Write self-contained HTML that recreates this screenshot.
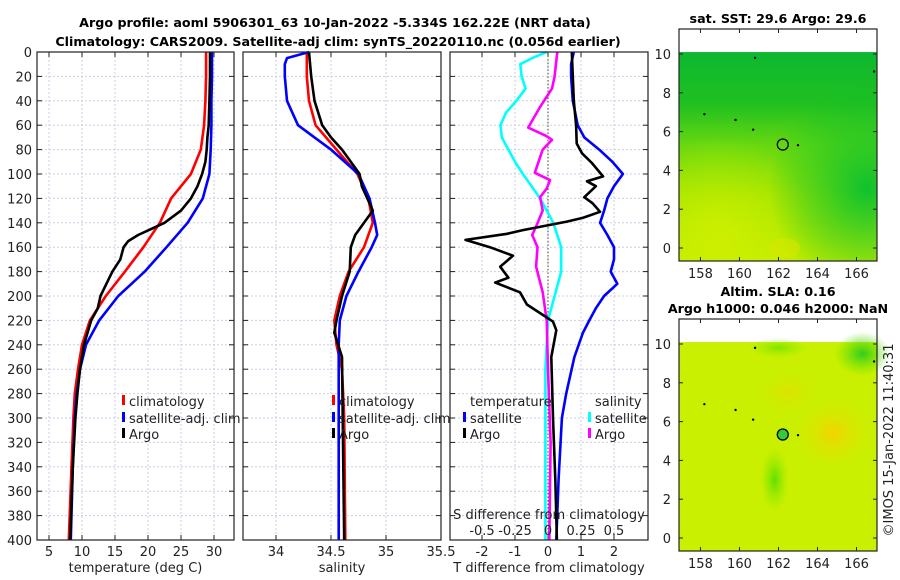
<!DOCTYPE html>
<html><head><meta charset="utf-8">
<style>
body{margin:0;background:#fff;}
svg{display:block;font-family:"DejaVu Sans","Liberation Sans",sans-serif;}
.t{font-size:13px;fill:#222;}
.b{font-size:12.7px;font-weight:bold;fill:#000;}
</style></head>
<body>
<svg id="fig" width="900" height="580" viewBox="0 0 900 580">
<defs>
<linearGradient id="sstg" x1="0" y1="0" x2="0" y2="1">
<stop offset="0" stop-color="#0cb830"/><stop offset="0.25" stop-color="#20c020"/>
<stop offset="0.45" stop-color="#68d810"/><stop offset="0.7" stop-color="#a0e400"/>
<stop offset="1" stop-color="#c0ec00"/></linearGradient>
<radialGradient id="sstr" cx="0.95" cy="0.65" r="0.5"><stop offset="0" stop-color="#08c030" stop-opacity="0.95"/><stop offset="1" stop-color="#08c030" stop-opacity="0"/></radialGradient>
<radialGradient id="ssty" cx="0.2" cy="0.9" r="0.5"><stop offset="0" stop-color="#d0f000" stop-opacity="0.9"/><stop offset="1" stop-color="#d0f000" stop-opacity="0"/></radialGradient>
<radialGradient id="slao" cx="0.5" cy="0.5" r="0.5"><stop offset="0" stop-color="#f2d400"/><stop offset="1" stop-color="#d0f000" stop-opacity="0"/></radialGradient>
<radialGradient id="slag" cx="0.5" cy="0.5" r="0.5"><stop offset="0" stop-color="#30cc20"/><stop offset="1" stop-color="#60e000" stop-opacity="0"/></radialGradient>
<radialGradient id="slag2" cx="0.5" cy="0.5" r="0.5"><stop offset="0" stop-color="#60e000"/><stop offset="1" stop-color="#90e800" stop-opacity="0"/></radialGradient>
</defs>
<g>
<text class="b" x="335" y="27" text-anchor="middle">Argo profile: aoml 5906301_63 10-Jan-2022 -5.334S 162.22E (NRT data)</text>
<text class="b" x="338" y="46" text-anchor="middle">Climatology: CARS2009. Satellite-adj clim: synTS_20220110.nc (0.056d earlier)</text>
</g>
<g id="panels"></g>
<g id="maps"></g>
<text class="t" transform="translate(893,440) rotate(-90)" text-anchor="middle">©IMOS 15-Jan-2022 11:40:31</text>
</svg>
<script>
// ---- data (depth in m) ----
var depthTicks=[0,20,40,60,80,100,120,140,160,180,200,220,240,260,280,300,320,340,360,380,400];
var tempTicks=[5,10,15,20,25,30];
var salTicks=[34,34.5,35,35.5];
var tdiffTicks=[-2,-1,0,1,2];
var sdiffTicks=[-0.5,-0.25,0,0.25,0.5];
var sdiffLabels=["-0.5","-0.25","0","0.25","0.5"];
var climTdepth=[0,20,40,60,80,100,120,140,160,180,200,220,240,260,280,300,340,400];
var climT=[28.8,28.8,28.7,28.5,28.0,26.5,23.5,21.8,19.3,16.5,13.6,11.2,10.0,9.4,8.9,8.7,8.4,8.0];
var satTdepth=[0,20,40,60,80,100,120,140,160,180,200,220,240,260,280,300,340,400];
var satT=[29.7,29.7,29.6,29.6,29.5,29.3,28.3,26.0,22.8,19.5,15.5,12.6,10.6,9.7,9.2,8.9,8.6,8.3];
var argoTdepth=[0,20,40,60,70,80,90,100,110,120,130,140,145,150,155,160,170,180,190,200,210,220,240,260,280,300,340,400];
var argoT=[29.4,29.4,29.3,29.2,29.0,28.9,28.7,28.2,27.5,26.5,25.0,22.5,20.5,18.5,17.0,16.3,15.8,14.6,13.7,12.8,12.4,11.4,10.3,9.7,9.3,9.0,8.6,8.2];
var climSdepth=[0,20,40,60,80,100,120,140,160,180,200,220,240,260,300,400];
var climS=[34.28,34.28,34.3,34.36,34.55,34.74,34.84,34.88,34.8,34.66,34.58,34.53,34.55,34.6,34.62,34.63];
var satSdepth=[0,5,10,20,40,60,70,80,100,120,140,150,160,180,200,220,240,260,400];
var satS=[34.3,34.1,34.08,34.08,34.1,34.2,34.35,34.5,34.75,34.85,34.9,34.92,34.87,34.75,34.64,34.58,34.57,34.57,34.57];
var argoSdepth=[0,20,40,60,70,80,90,100,110,120,130,140,150,160,180,200,220,230,250,400];
var argoS=[34.3,34.32,34.35,34.42,34.5,34.6,34.68,34.76,34.78,34.83,34.88,34.8,34.72,34.68,34.67,34.6,34.55,34.53,34.6,34.62];
var satTdDepth=[0,10,20,40,60,70,80,90,100,110,120,130,140,150,160,170,180,190,200,210,220,230,250,280,300,350,400];
var satTd=[0.78,0.7,0.7,0.75,0.9,1.1,1.55,1.95,2.27,2.0,1.8,1.7,1.58,1.8,2.0,2.0,1.9,2.1,1.7,1.45,1.25,1.06,0.8,0.55,0.42,0.32,0.25];
var argoTdDepth=[0,20,40,60,75,83,91,102,106,110,119,124,131,136,139,146,149,154,160,167,176,185,189,197,207,214,221,228,250,300,350,400];
var argoTd=[0.72,0.75,0.78,0.85,0.87,1.03,1.33,1.67,1.18,1.45,1.1,1.35,1.58,1.05,0.57,-0.76,-1.24,-2.5,-1.76,-1.06,-1.45,-1.2,-1.6,-0.85,-0.64,-0.24,0.15,0.25,0.1,0.15,0.22,0.27];
var satSdDepth=[0,5,10,20,30,40,50,60,70,80,90,100,120,140,160,180,200,220,260,400];
var satSd=[-0.01,-0.12,-0.21,-0.2,-0.17,-0.24,-0.32,-0.36,-0.35,-0.3,-0.25,-0.19,-0.06,0.04,0.1,0.1,0.05,0.0,-0.02,-0.02];
var argoSdDepth=[0,20,30,45,62,69,72,80,99,105,112,119,130,143,150,160,176,197,220,260,320,400];
var argoSd=[0.07,0.05,0.03,-0.06,-0.15,-0.01,0.03,-0.04,-0.1,0.015,-0.01,-0.06,-0.04,-0.09,-0.12,-0.08,-0.09,-0.04,-0.01,0.0,0.02,0.01];
var latTicks=[0,2,4,6,8,10];
var lonTicks=[158,160,162,164,166];
var argoLon=162.22, argoLat=5.334;

var NS='http://www.w3.org/2000/svg';
function mk(tag,attrs,parent,txt){var e=document.createElementNS(NS,tag);for(var k in attrs)e.setAttribute(k,attrs[k]);if(txt!==undefined)e.textContent=txt;parent.appendChild(e);return e;}
var Y0=52,Y1=540;
function yD(d){return Y0+d/400*(Y1-Y0);}
var panels=document.getElementById('panels');

function panel(name,x0,x1,dmin,dmax,ticks,labels,xlabel,leftLabels){
  var g=mk('g',{},panels);
  
  
  var xs=function(v){return x0+(v-dmin)/(dmax-dmin)*(x1-x0);};
  ticks.forEach(function(t){var x=xs(t);mk('line',{x1:x,x2:x,y1:Y0,y2:Y1,stroke:'#c9cde8','stroke-width':1,'stroke-dasharray':'2,2'},g);});
  depthTicks.forEach(function(d){var y=yD(d);mk('line',{x1:x0,x2:x1,y1:y,y2:y,stroke:'#c9cde8','stroke-width':1,'stroke-dasharray':'2,2'},g);
    mk('line',{x1:x0,x2:x0+5,y1:y,y2:y,stroke:'#222'},g);mk('line',{x1:x1-5,x2:x1,y1:y,y2:y,stroke:'#222'},g);
    if(leftLabels){var l=mk('text',{class:'t',x:x0-5,y:y+5,'text-anchor':'end'},g,String(d));}});
  ticks.forEach(function(t,i){var x=xs(t);mk('line',{x1:x,x2:x,y1:Y1,y2:Y1-5,stroke:'#222'},g);mk('line',{x1:x,x2:x,y1:Y0,y2:Y0+5,stroke:'#222'},g);
    var l=mk('text',{class:'t',x:x,y:556,'text-anchor':'middle'},g,labels[i]);});
  var xl=mk('text',{class:'t',x:(x0+x1)/2,y:572,'text-anchor':'middle'},g,xlabel);
  
  return {g:g,xs:xs,x0:x0,x1:x1};
}
function line(p,depths,vals,col,name,conv){
  var pts=depths.map(function(d,i){return p.xs(conv?conv(vals[i]):vals[i]).toFixed(1)+','+yD(d).toFixed(1);}).join(' ');
  var e=mk('polyline',{points:pts,fill:'none',stroke:col,'stroke-width':2.6,'stroke-linejoin':'round'},p.g);
  
}
function frame(p){mk('rect',{x:p.x0,y:Y0,width:p.x1-p.x0,height:Y1-Y0,fill:'none',stroke:'#222','stroke-width':1.2},p.g);}
function legend(p,x,y,col,label,name){
  var g=mk('g',{},p.g);
  if(col)mk('rect',{x:x-7,y:y-11,width:3,height:10,fill:col},g);
  mk('text',{class:'t',x:x,y:y},g,label);
}
var fmt=function(a){return a.map(String);};
var p1=panel('temperature-panel',37,234,3.18,33.03,tempTicks,fmt(tempTicks),'temperature (deg C)',true);
line(p1,climTdepth,climT,'#ff0000','climatology-temp-line');
line(p1,satTdepth,satT,'#0000ff','satellite-temp-line');
line(p1,argoTdepth,argoT,'#000','argo-temp-line');
frame(p1);
legend(p1,129,406,'#ff0000','climatology','legend-climatology');
legend(p1,129,423,'#0000ff','satellite-adj. clim','legend-satellite');
legend(p1,129,439,'#000','Argo','legend-argo');
var p2=panel('salinity-panel',243,441,33.7,35.5,salTicks,['34','34.5','35','35.5'],'salinity',false);
line(p2,climSdepth,climS,'#ff0000','climatology-sal-line');
line(p2,satSdepth,satS,'#0000ff','satellite-sal-line');
line(p2,argoSdepth,argoS,'#000','argo-sal-line');
frame(p2);
legend(p2,339,406,'#ff0000','climatology','legend-climatology');
legend(p2,339,423,'#0000ff','satellite-adj. clim','legend-satellite');
legend(p2,339,439,'#000','Argo','legend-argo');
var p3=panel('difference-panel',450,648,-2.97,3.03,tdiffTicks,fmt(tdiffTicks),'T difference from climatology',false);
mk('line',{x1:p3.xs(0),x2:p3.xs(0),y1:Y0,y2:Y1,stroke:'#4a4a20','stroke-width':1,'stroke-dasharray':'1.5,2'},p3.g);
var s2t=function(v){return v*4;};
line(p3,satSdDepth,satSd,'#00ffff','satellite-sal-diff-line',s2t);
line(p3,argoSdDepth,argoSd,'#ff00ff','argo-sal-diff-line',s2t);
line(p3,satTdDepth,satTd,'#0000ff','satellite-temp-diff-line');
line(p3,argoTdDepth,argoTd,'#000','argo-temp-diff-line');
frame(p3);
legend(p3,470,406,null,'temperature','legend-temperature-title');
legend(p3,470,423,'#0000ff','satellite','legend-temp-satellite');
legend(p3,470,439,'#000','Argo','legend-temp-argo');
legend(p3,595,406,null,'salinity','legend-salinity-title');
legend(p3,595,423,'#00ffff','satellite','legend-sal-satellite');
legend(p3,595,439,'#ff00ff','Argo','legend-sal-argo');
var st=mk('text',{class:'t',x:549,y:519,'text-anchor':'middle'},p3.g,'S difference from climatology');

sdiffTicks.forEach(function(v,i){var l=mk('text',{class:'t',x:p3.xs(v*4),y:535,'text-anchor':'middle'},p3.g,sdiffLabels[i]);
  });

var maps=document.getElementById('maps');
var MX0=679,MX1=877,LON0=156.9,LON1=167.05;
function map(name,top,bot,lat10y,lat0y,t1,t2,fillFn,marker){
  var g=mk('g',{},maps);
  var ys=function(l){return lat0y+(l)*(lat10y-lat0y)/10;};
  var xs=function(l){return MX0+(l-LON0)/(LON1-LON0)*(MX1-MX0);};
  var ft=ys(10.1);
  fillFn(g,xs,ys,ft,bot);
  [[158.2,6.9],[163.0,5.3],[166.9,9.1],[160.8,9.8],[159.8,6.6],[160.7,6.1]].forEach(function(p){mk('circle',{cx:xs(p[0]),cy:ys(p[1]),r:1.2,fill:'#000'},g);});
  var m=mk('circle',{cx:xs(argoLon),cy:ys(argoLat),r:5.5,fill:marker,stroke:'#000','stroke-width':1.3},g);
  
  mk('rect',{x:MX0,y:top,width:MX1-MX0,height:bot-top,fill:'none',stroke:'#222','stroke-width':1.2},g);
  latTicks.forEach(function(l){var y=ys(l);mk('line',{x1:MX0,x2:MX0+4,y1:y,y2:y,stroke:'#222'},g);mk('line',{x1:MX1-4,x2:MX1,y1:y,y2:y,stroke:'#222'},g);
    var t=mk('text',{class:'t',x:MX0-8,y:y+5,'text-anchor':'end'},g,String(l));});
  lonTicks.forEach(function(l){var x=xs(l);mk('line',{x1:x,x2:x,y1:bot,y2:bot-4,stroke:'#222'},g);mk('line',{x1:x,x2:x,y1:top,y2:top+4,stroke:'#222'},g);
    var t=mk('text',{class:'t',x:x,y:bot+17,'text-anchor':'middle'},g,String(l));});
  var tt=mk('text',{class:'b',x:778,y:t1[1],'text-anchor':'middle'},g,t1[0]);
  if(t2){var t3=mk('text',{class:'b',x:778,y:t2[1],'text-anchor':'middle'},g,t2[0]);}
}
map('sst-map',29,261,54,248,['sat. SST: 29.6 Argo: 29.6',23],null,function(g,xs,ys,ft,bot){
  mk('rect',{x:MX0,y:ft,width:MX1-MX0,height:bot-ft,fill:'url(#sstg)'},g);
  mk('rect',{x:MX0,y:ft,width:MX1-MX0,height:bot-ft,fill:'url(#ssty)'},g);
  mk('rect',{x:MX0,y:ft,width:MX1-MX0,height:bot-ft,fill:'url(#sstr)'},g);
  mk('ellipse',{cx:xs(162.3),cy:ys(0),rx:16,ry:10,fill:'#d8e800',opacity:0.5},g);
},'none');
map('sla-map',319,551,344,538,['Altim. SLA: 0.16',296],['Argo h1000: 0.046 h2000: NaN',313],function(g,xs,ys,ft,bot){
  mk('rect',{x:MX0,y:ft,width:MX1-MX0,height:bot-ft,fill:'#c8f000'},g);
  mk('ellipse',{cx:xs(164.8),cy:ys(5.4),rx:45,ry:40,fill:'url(#slao)'},g);
  mk('ellipse',{cx:xs(162.5),cy:ys(7.5),rx:35,ry:25,fill:'url(#slao)',opacity:0.5},g);
  mk('ellipse',{cx:xs(166.3),cy:ys(9.5),rx:28,ry:22,fill:'url(#slag)'},g);
  mk('ellipse',{cx:xs(161.8),cy:ys(3),rx:14,ry:32,fill:'url(#slag2)'},g);
  mk('ellipse',{cx:xs(162),cy:ys(9.8),rx:30,ry:10,fill:'url(#slag2)',opacity:0.7},g);
},'#33cc33');
</script>
</body></html>
